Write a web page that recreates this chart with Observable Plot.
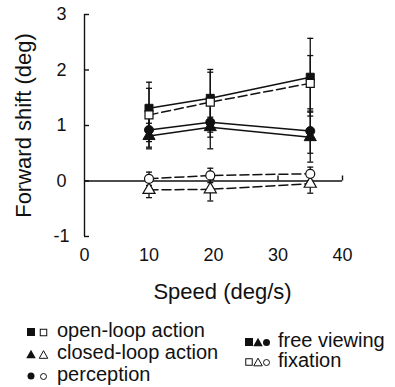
<!DOCTYPE html>
<html><head><meta charset="utf-8">
<script src="https://cdn.jsdelivr.net/npm/d3@7"></script>
<script src="https://cdn.jsdelivr.net/npm/@observablehq/plot@0.6"></script>
<style>
body{margin:0;background:#fff;font-family:"Liberation Sans",Arial,sans-serif;}
#wrap{position:relative;width:395px;height:387px;overflow:hidden;background:#fff}
.leg{position:absolute;font-size:20px;color:#111;white-space:nowrap;line-height:20px}
.sym{position:absolute}
</style></head><body><div id="wrap"></div>
<script>
// ---- data ----
const speeds = [10, 19.5, 35];
const xTicks = [0, 10, 20, 30, 40];
const yTicks = [-1, 0, 1, 2, 3];
const xDomain = [0, 40];
const yDomain = [-1, 3];
const xLabel = "Speed (deg/s)";
const yLabel = "Forward shift (deg)";

// free viewing (filled), fixation (open)
const openLoopFree   = [1.31, 1.49, 1.87];
const openLoopFreeErr = [0.47, 0.52, 0.70];
const openLoopFix    = [1.19, 1.42, 1.76];
const openLoopFixErr = [0.48, 0.54, 0.50];
const perceptionFree = [0.92, 1.06, 0.90];
const perceptionFreeErr = [0.31, 0.48, 0.40];
const closedLoopFree = [0.81, 0.97, 0.79];
const closedLoopFreeErr = [0.23, 0.18, 0.45];
const perceptionFix  = [0.04, 0.10, 0.13];
const perceptionFixErr = [0.12, 0.13, 0.12];
const closedLoopFix  = [-0.16, -0.15, -0.05];
const closedLoopFixErr = [0.14, 0.21, 0.17];

const seriesDefs = [
  {task: "open-loop action", cond: "free viewing", symbol: "square", vals: openLoopFree, errs: openLoopFreeErr},
  {task: "closed-loop action", cond: "free viewing", symbol: "triangle", vals: closedLoopFree, errs: closedLoopFreeErr},
  {task: "perception", cond: "free viewing", symbol: "circle", vals: perceptionFree, errs: perceptionFreeErr},
  {task: "open-loop action", cond: "fixation", symbol: "square", vals: openLoopFix, errs: openLoopFixErr},
  {task: "closed-loop action", cond: "fixation", symbol: "triangle", vals: closedLoopFix, errs: closedLoopFixErr},
  {task: "perception", cond: "fixation", symbol: "circle", vals: perceptionFix, errs: perceptionFixErr}
];

const rows = seriesDefs.flatMap(s => speeds.map((x, i) => ({
  key: s.task + "|" + s.cond, task: s.task, cond: s.cond, symbol: s.symbol,
  x, y: s.vals[i], lo: s.vals[i] - s.errs[i], hi: s.vals[i] + s.errs[i]
})));
const caps = rows.flatMap(r => [{x: r.x, y: r.lo}, {x: r.x, y: r.hi}]);
const free = rows.filter(r => r.cond === "free viewing");
const fix = rows.filter(r => r.cond === "fixation");

// ---- layout ----
const W = 395, H = 312, mT = 14, mB = 76, mL = 84, mR = 53;
const frameW = W - mL - mR;
const y0px = mT + (H - mT - mB) * (yDomain[1] - 0) / (yDomain[1] - yDomain[0]);
const ink = "#111";

const capSymbol = {draw(ctx, size) { ctx.moveTo(-3, 0); ctx.lineTo(3, 0); }};

const chart = Plot.plot({
  width: W, height: H, marginTop: mT, marginBottom: mB, marginLeft: mL, marginRight: mR,
  style: {fontFamily: "'Liberation Sans', Arial, sans-serif", color: ink, background: "white", overflow: "visible"},
  x: {domain: xDomain},
  y: {domain: yDomain},
  marks: [
    Plot.axisY({ticks: yTicks, tickSize: 0, tickPadding: 23, textAnchor: "middle", fontSize: 18, label: null, tickFormat: d => String(d)}),
    Plot.axisX({ticks: xTicks, tickSize: 0, tickPadding: 12, fontSize: 18, label: null}),
    Plot.ruleX([xDomain[0]], {y1: yDomain[0], y2: yDomain[1], stroke: ink, strokeWidth: 1.4}),
    Plot.ruleY([0], {x1: xDomain[0], x2: xDomain[1], stroke: ink, strokeWidth: 1.4}),
    Plot.tickY(yTicks, {y: d => d, insetRight: frameW - 5, stroke: ink, strokeWidth: 1.4}),
    Plot.tickX(xTicks.slice(1), {x: d => d, insetTop: y0px - 5 - mT, insetBottom: H - mB - y0px, stroke: ink, strokeWidth: 1.4}),
    Plot.ruleX(rows, {x: "x", y1: "lo", y2: "hi", stroke: ink, strokeWidth: 1.3}),
    Plot.dot(caps, {x: "x", y: "y", symbol: capSymbol, fill: "none", stroke: ink, strokeWidth: 1.3}),
    Plot.line(free, {x: "x", y: "y", z: "key", stroke: ink, strokeWidth: 1.5}),
    Plot.line(fix, {x: "x", y: "y", z: "key", stroke: ink, strokeWidth: 1.5, strokeDasharray: "9,4"}),
    Plot.dot(free, {x: "x", y: "y", symbol: "symbol", r: 4.5, fill: ink, stroke: ink, strokeWidth: 1}),
    Plot.dot(fix, {x: "x", y: "y", symbol: "symbol", r: 4.5, fill: "white", stroke: ink, strokeWidth: 1.2}),
    Plot.text([yLabel], {frameAnchor: "left", dx: -61, rotate: -90, textAnchor: "middle", lineAnchor: "middle", fontSize: 22, fill: ink}),
    Plot.text([xLabel], {frameAnchor: "bottom", dx: 9, dy: 47, textAnchor: "middle", lineAnchor: "top", fontSize: 22, fill: ink})
  ]
});

const wrap = document.getElementById("wrap");
wrap.appendChild(chart);
chart.style.position = "absolute"; chart.style.left = "0"; chart.style.top = "0";

// ---- legend ----
const legendTasks = ["open-loop action", "closed-loop action", "perception"];
const legendConds = ["free viewing", "fixation"];
function shape(sym, cx, cy, s, filled) {
  const f = filled ? ink : "white", sw = filled ? 0.01 : 1;
  if (sym === "square") return `<rect x="${cx - s/2}" y="${cy - s/2}" width="${s}" height="${s}" fill="${f}" stroke="${ink}" stroke-width="${sw}"/>`;
  if (sym === "circle") return `<circle cx="${cx}" cy="${cy}" r="${s/2}" fill="${f}" stroke="${ink}" stroke-width="${sw}"/>`;
  const h = s * 0.9;
  return `<path d="M${cx},${cy - h/2}L${cx + s/2},${cy + h/2}L${cx - s/2},${cy + h/2}Z" fill="${f}" stroke="${ink}" stroke-width="${sw}"/>`;
}
const symOf = ["square", "triangle", "circle"];
const filledSize = {square: 8, triangle: 9.5, circle: 7};
const openSize = {square: 6.5, triangle: 8.5, circle: 6};
legendTasks.forEach((t, i) => {
  const base = 337 + i * 22;
  const d = document.createElement("div");
  d.className = "leg"; d.style.left = "57px"; d.style.top = (base - 17) + "px"; d.textContent = t;
  wrap.appendChild(d);
  const sv = document.createElementNS("http://www.w3.org/2000/svg", "svg");
  sv.setAttribute("class", "sym"); sv.setAttribute("width", 26); sv.setAttribute("height", 12);
  sv.style.left = "24px"; sv.style.top = (base - 11) + "px";
  const s = symOf[i];
  sv.innerHTML = shape(s, 7, 6, filledSize[s], true) + shape(s, 19.5, 6.5, openSize[s], false);
  wrap.appendChild(sv);
});
legendConds.forEach((c, i) => {
  const base = 347 + i * 20;
  const d = document.createElement("div");
  d.className = "leg"; d.style.left = "278px"; d.style.top = (base - 17) + "px"; d.textContent = c;
  wrap.appendChild(d);
  const s2 = document.createElementNS("http://www.w3.org/2000/svg", "svg");
  s2.setAttribute("class", "sym"); s2.setAttribute("width", 28); s2.setAttribute("height", 12);
  s2.style.left = "243px"; s2.style.top = (base - 11) + "px";
  const filled = i === 0;
  const sz = filled ? filledSize : openSize;
  s2.innerHTML = shape("square", 6, 6, sz.square, filled) + shape("triangle", 15, 6, sz.triangle, filled) + shape("circle", 23.5, 6.5, sz.circle, filled);
  wrap.appendChild(s2);
});
</script></body></html>
